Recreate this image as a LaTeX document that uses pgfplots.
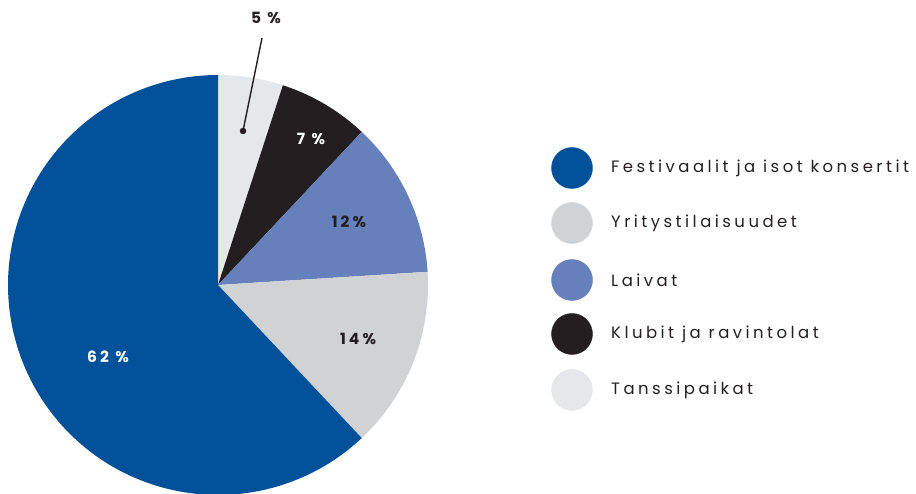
\documentclass[border=0pt]{standalone}
\usepackage{pgfplots}
\pgfplotsset{compat=1.18}
\usepackage{fontspec}
\setmainfont{Poppins}
\newfontfamily\legfont[LetterSpace=21]{Poppins}
\newfontfamily\labfont[LetterSpace=20]{Poppins}
\definecolor{cFest}{HTML}{00519A}
\definecolor{cYri}{HTML}{D1D2D4}
\definecolor{cLai}{HTML}{6580BA}
\definecolor{cKlu}{HTML}{231F20}
\definecolor{cTan}{HTML}{E6E7E8}
% shares (%), clockwise from the top
\def\pTan{5}
\def\pKlu{7}
\def\pLai{12}
\def\pYri{14}
\def\pFest{62}
\def\cx{218}\def\cy{209}\def\R{210}
\begin{document}
\begin{tikzpicture}
\begin{axis}[
  width=916pt, height=494pt, scale only axis,
  xmin=0, xmax=916, ymin=0, ymax=494,
  hide axis, clip=false,
]
% wedges (angles derived from the shares)
\pgfmathsetmacro{\aA}{90}
\pgfmathsetmacro{\aB}{90-3.6*\pTan}
\pgfmathsetmacro{\aC}{\aB-3.6*\pKlu}
\pgfmathsetmacro{\aD}{\aC-3.6*\pLai}
\pgfmathsetmacro{\aE}{\aD-3.6*\pYri}
\pgfmathsetmacro{\aF}{\aE-3.6*\pFest}
\addplot[fill=cTan, draw=none, domain=\aB:\aA, samples=30, variable=\t]
  ({\cx+\R*cos(\t)},{\cy+\R*sin(\t)}) -- (axis cs:\cx,\cy) -- cycle;
\addplot[fill=cKlu, draw=none, domain=\aC:\aB, samples=30, variable=\t]
  ({\cx+\R*cos(\t)},{\cy+\R*sin(\t)}) -- (axis cs:\cx,\cy) -- cycle;
\addplot[fill=cLai, draw=none, domain=\aD:\aC, samples=40, variable=\t]
  ({\cx+\R*cos(\t)},{\cy+\R*sin(\t)}) -- (axis cs:\cx,\cy) -- cycle;
\addplot[fill=cYri, draw=none, domain=\aE:\aD, samples=40, variable=\t]
  ({\cx+\R*cos(\t)},{\cy+\R*sin(\t)}) -- (axis cs:\cx,\cy) -- cycle;
\addplot[fill=cFest, draw=none, domain=\aF:\aE, samples=150, variable=\t]
  ({\cx+\R*cos(\t)},{\cy+\R*sin(\t)}) -- (axis cs:\cx,\cy) -- cycle;
% leader line for 5 %
\addplot[cKlu, line width=1.4pt] coordinates {(262,456) (243,363)};
\addplot[only marks, mark=*, mark size=3, cKlu] coordinates {(243,363)};
% slice labels
\node[font=\labfont\bfseries\fontsize{15.5}{17}\selectfont, text=cKlu] at (axis cs:266,476) {5 \%};
\node[font=\labfont\bfseries\fontsize{15.5}{17}\selectfont, text=white] at (axis cs:311,355) {7 \%};
\node[font=\labfont\bfseries\fontsize{15.5}{17}\selectfont, text=cKlu] at (axis cs:349,272) {12\%};
\node[font=\labfont\bfseries\fontsize{15.5}{17}\selectfont, text=cKlu] at (axis cs:358,155) {14\%};
\node[font=\labfont\bfseries\fontsize{15.5}{17}\selectfont, text=white] at (axis cs:108,137) {62 \%};
% legend markers
\addplot[only marks, mark=*, mark size=20.5, color=cFest] coordinates {(572,326)};
\addplot[only marks, mark=*, mark size=20.5, color=cYri] coordinates {(572,271)};
\addplot[only marks, mark=*, mark size=20.5, color=cLai] coordinates {(572,214)};
\addplot[only marks, mark=*, mark size=20.5, color=cKlu] coordinates {(572,160)};
\addplot[only marks, mark=*, mark size=20.5, color=cTan] coordinates {(572,104)};
% legend text
\node[anchor=west, font=\legfont\fontsize{16.5}{19}\selectfont, text=cKlu, inner sep=0pt] at (axis cs:611,326) {Festivaalit ja isot konsertit};
\node[anchor=west, font=\legfont\fontsize{16.5}{19}\selectfont, text=cKlu, inner sep=0pt] at (axis cs:611,271) {Yritystilaisuudet};
\node[anchor=west, font=\legfont\fontsize{16.5}{19}\selectfont, text=cKlu, inner sep=0pt] at (axis cs:611,214) {Laivat};
\node[anchor=west, font=\legfont\fontsize{16.5}{19}\selectfont, text=cKlu, inner sep=0pt] at (axis cs:611,160) {Klubit ja ravintolat};
\node[anchor=west, font=\legfont\fontsize{16.5}{19}\selectfont, text=cKlu, inner sep=0pt] at (axis cs:611,104) {Tanssipaikat};
\end{axis}
\pgfresetboundingbox
\path (0,0) rectangle (916pt,494pt);
\end{tikzpicture}
\end{document}
